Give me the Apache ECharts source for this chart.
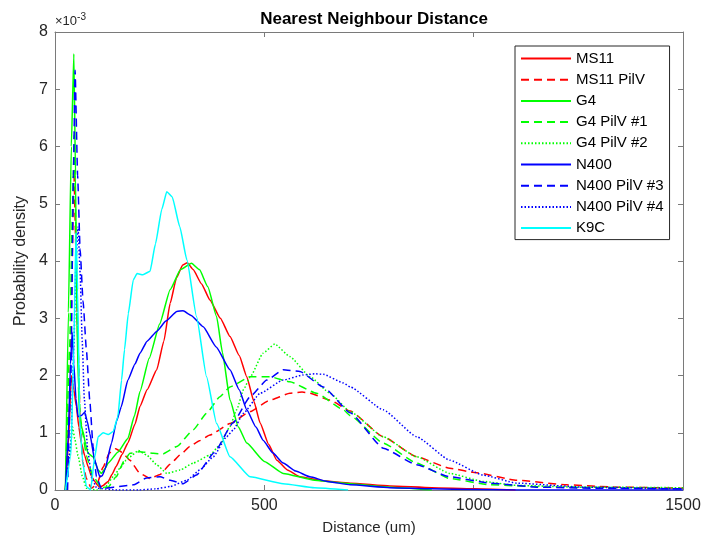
<!DOCTYPE html>
<html>
<head>
<meta charset="utf-8">
<script src="https://cdn.jsdelivr.net/npm/echarts@6/dist/echarts.min.js"></script>
<style>html,body{margin:0;padding:0;background:#fff}#c{width:704px;height:547px}</style>
</head>
<body>
<div id="c"></div>
<script>
// values in units of 1e-3 (probability density), x in um
const seriesNames = ['MS11','MS11 PilV','G4','G4 PilV #1','G4 PilV #2','N400','N400 PilV #3','N400 PilV #4','K9C'];
const xTicks = [0, 500, 1000, 1500];
const yTicks = [0,1,2,3,4,5,6,7,8];

const ms11 = [[25,0],[32,0.8],[39,2.0],[45,1.75],[51,1.46],[57,1.1],[63,0.82],[71,0.6],[79,0.41],[87,0.24],[95,0.15],[102,0.08],[107,0.05],[115,0.08],[127,0.15],[136,0.27],[146,0.41],[160,0.62],[174,0.82],[191,1.15],[203,1.46],[220,1.75],[243,2.10],[260,2.6],[275,3.26],[290,3.7],[305,3.93],[316,3.97],[330,3.85],[350,3.6],[370,3.32],[395,3.0],[418,2.68],[440,2.35],[458,1.98],[475,1.55],[490,1.17],[510,0.8],[530,0.52],[555,0.35],[585,0.23],[640,0.16],[705,0.12],[800,0.07],[900,0.04],[1000,0.02],[1100,0.0]];
const ms11PilV = [[25,0],[35,1.5],[41,4.0],[45,5.6],[50,4.2],[55,2.5],[60,1.2],[66,0.5],[75,0.2],[87,0.03],[100,0.1],[115,0.4],[130,0.65],[145,0.72],[160,0.66],[179,0.52],[203,0.29],[227,0.2],[251,0.27],[275,0.45],[300,0.62],[322,0.76],[345,0.86],[370,0.96],[418,1.16],[466,1.37],[513,1.57],[561,1.69],[590,1.71],[609,1.69],[657,1.57],[705,1.38],[784,0.93],[864,0.58],[943,0.38],[1007,0.30],[1103,0.17],[1222,0.09],[1342,0.05],[1500,0.03]];
const g4 = [[25,0],[32,3.1],[39,6.0],[45,7.62],[49,5.5],[52,3.1],[56,1.8],[59,1.22],[67,1.02],[73,0.8],[79,0.64],[91,0.58],[103,0.35],[111,0.29],[120,0.38],[127,0.47],[150,0.66],[174,0.9],[190,1.3],[203,1.72],[225,2.3],[250,2.9],[275,3.5],[300,3.85],[326,3.96],[345,3.85],[365,3.55],[386,3.03],[400,2.4],[418,1.57],[438,1.1],[458,0.82],[500,0.5],[545,0.29],[620,0.17],[705,0.11],[800,0.05],[900,0.0]];
const g4PilV1 = [[25,0],[35,2.5],[42,5.0],[46,6.2],[50,4.5],[55,2.5],[60,1.3],[67,0.95],[75,0.6],[90,0.25],[110,0.05],[127,0.05],[146,0.23],[166,0.52],[179,0.64],[203,0.67],[235,0.64],[258,0.63],[291,0.76],[330,1.05],[362,1.34],[394,1.63],[418,1.8],[466,1.98],[513,1.98],[561,1.89],[625,1.69],[689,1.40],[705,1.3],[784,0.82],[864,0.47],[943,0.2],[1039,0.09],[1182,0.05],[1500,0.02]];
const g4PilV2 = [[25,0],[35,0.6],[42,1.1],[47,0.9],[55,0.6],[65,0.25],[75,0.03],[100,0.0],[120,0.05],[139,0.23],[155,0.38],[170,0.52],[179,0.58],[199,0.69],[219,0.61],[243,0.44],[267,0.29],[299,0.35],[330,0.47],[370,0.61],[394,0.79],[418,1.11],[434,1.40],[450,1.75],[466,1.97],[497,2.39],[525,2.55],[561,2.33],[609,1.98],[657,1.69],[705,1.37],[784,0.93],[864,0.58],[943,0.29],[1022,0.15],[1103,0.08],[1250,0.05],[1500,0.04]];
const n400 = [[25,0],[32,1.0],[37,2.2],[41,2.75],[45,2.2],[50,1.6],[55,1.28],[63,1.3],[71,1.36],[77,1.2],[83,0.99],[95,0.52],[107,0.23],[113,0.25],[119,0.35],[135,0.82],[147,1.2],[158,1.45],[174,1.92],[191,2.2],[203,2.39],[220,2.6],[243,2.77],[265,2.95],[291,3.12],[306,3.13],[325,3.05],[354,2.85],[385,2.5],[418,2.10],[440,1.75],[458,1.40],[480,1.1],[497,0.87],[520,0.65],[545,0.47],[575,0.33],[609,0.23],[650,0.15],[705,0.09],[800,0.04],[900,0.02],[1000,0.01],[1100,0],[1500,0]];
const n400PilV3 = [[30,0],[38,2.0],[44,5.5],[48,7.33],[54,5.5],[60,4.2],[67,3.3],[75,2.45],[83,1.57],[91,0.76],[99,0.23],[111,0.02],[140,0.05],[187,0.09],[219,0.21],[251,0.23],[275,0.17],[306,0.11],[338,0.26],[380,0.65],[425,1.17],[466,1.63],[506,1.92],[545,2.10],[585,2.07],[641,1.80],[705,1.35],[784,0.73],[864,0.44],[943,0.23],[1039,0.12],[1150,0.05],[1300,0.03],[1500,0.02]];
const n400PilV4 = [[25,0],[38,0.8],[45,2.5],[50,4.0],[55,4.6],[60,3.8],[65,2.6],[70,1.6],[78,0.7],[88,0.2],[100,0.03],[150,0.0],[200,0.0],[240,0.02],[275,0.06],[315,0.17],[346,0.35],[378,0.58],[410,0.93],[426,1.05],[450,1.34],[490,1.69],[545,1.92],[593,2.01],[620,2.03],[641,2.02],[689,1.87],[705,1.80],[784,1.40],[864,0.93],[943,0.52],[1022,0.26],[1103,0.12],[1262,0.05],[1500,0.02]];
const k9c = [[25,0],[38,0.6],[45,2.5],[50,4.5],[54,3.5],[59,1.22],[66,0.5],[75,0.06],[85,0.0],[95,0.58],[103,0.93],[115,1.0],[127,0.97],[139,1.02],[150,1.28],[159,1.92],[166,2.45],[175,3.08],[187,3.67],[196,3.78],[210,3.76],[227,3.82],[240,4.3],[255,4.9],[267,5.21],[280,5.12],[298,4.60],[315,4.02],[338,3.03],[362,1.98],[386,1.16],[418,0.58],[466,0.23],[545,0.11],[620,0.04],[700,0.0]];

const seriesData = [ms11, ms11PilV, g4, g4PilV1, g4PilV2, n400, n400PilV3, n400PilV4, k9c];
const colors = ['#ff0000','#ff0000','#00ff00','#00ff00','#00ff00','#0000ff','#0000ff','#0000ff','#00ffff'];
const dashes = ['solid',[8,5],'solid',[8,5],[1.5,2],'solid',[8,5],[1.5,2],'solid'];

const FONT = 'Liberation Sans, Arial, sans-serif';
const axisCol = '#7a7a7a';
const txtCol = '#262626';

const chart = echarts.init(document.getElementById('c'), null, {renderer:'canvas'});
const series = seriesNames.map((n,i)=>({
  name: n, type: 'line', xAxisIndex: 0, yAxisIndex: 0,
  data: seriesData[i].map(p=>[p[0], p[1]*1e-3]),
  symbol: 'none', showSymbol: false, smooth: 0.15, smoothMonotone: 'x',
  lineStyle: {color: colors[i], width: 1.5, type: dashes[i]},
  itemStyle: {color: colors[i]},
  animation: false
}));

const ax = (pos, show) => ({
  type: 'value', position: pos, min: 0, max: 1500, interval: 500,
  axisLine: {show: true, onZero: false, lineStyle: {color: axisCol, width: 1}},
  axisTick: {show: true, inside: true, length: 5, lineStyle: {color: axisCol}},
  axisLabel: {show: show, color: txtCol, fontSize: 16, fontFamily: FONT, margin: 8,
    formatter: v => String(v)},
  splitLine: {show: false}
});
const ay = (pos, show) => ({
  type: 'value', position: pos, min: 0, max: 0.008, interval: 0.001,
  axisLine: {show: true, onZero: false, lineStyle: {color: axisCol, width: 1}},
  axisTick: {show: true, inside: true, length: 5, lineStyle: {color: axisCol}},
  axisLabel: {show: show, color: txtCol, fontSize: 16, fontFamily: FONT, margin: 7,
    formatter: v => String(Math.round(v*1000))},
  splitLine: {show: false}
});
const xb = ax('bottom', true);
xb.name = 'Distance (um)'; xb.nameLocation = 'middle'; xb.nameGap = 30;
xb.nameTextStyle = {color: txtCol, fontSize: 15, fontFamily: FONT};
const yl = ay('left', true);
yl.name = 'Probability density'; yl.nameLocation = 'middle'; yl.nameGap = 18;
yl.nameTextStyle = {color: txtCol, fontSize: 16, fontFamily: FONT};

chart.setOption({
  backgroundColor: '#ffffff',
  animation: false,
  title: {text: 'Nearest Neighbour Distance', left: 369, top: 6, textAlign: 'center',
    textStyle: {fontSize: 17, fontWeight: 'bold', color: '#000', fontFamily: FONT}},
  grid: {left: 55, right: 21, top: 32, bottom: 57, containLabel: false},
  xAxis: [xb, ax('top', false)],
  yAxis: [yl, ay('right', false)],
  legend: {
    orient: 'vertical', left: 515, top: 46,
    data: seriesNames,
    itemWidth: 50, itemHeight: 14, itemGap: 6.2,
    padding: [5, 6, 4, 5],
    backgroundColor: '#fff', borderColor: '#262626', borderWidth: 1,
    itemStyle: {opacity: 0},
    textStyle: {color: '#000', fontSize: 15, fontFamily: FONT}
  },
  graphic: [{
    type: 'text', left: 55, top: 12,
    style: {text: '×10{s|-3}', fill: txtCol, font: '13px ' + FONT,
      rich: {s: {fontSize: 10, verticalAlign: 'top', padding: [0,0,8,0], fill: txtCol}}}
  }],
  series: series
});
</script>
</body>
</html>
